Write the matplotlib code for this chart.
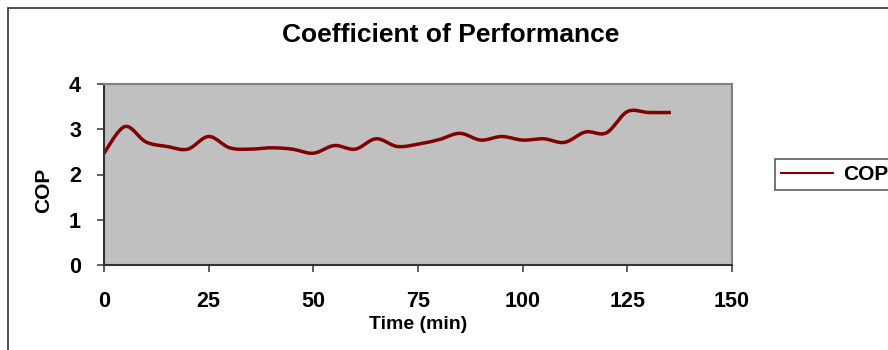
import numpy as np
import matplotlib.pyplot as plt
from matplotlib.patches import Rectangle

# COP readings every 5 minutes
time_min = [0, 5, 10, 15, 20, 25, 30, 35, 40, 45, 50, 55, 60, 65,
            70, 75, 80, 85, 90, 95, 100, 105, 110, 115, 120, 125, 130, 135]
cop = [2.47, 3.06, 2.72, 2.62, 2.56, 2.84, 2.59, 2.56, 2.59, 2.56, 2.47, 2.64, 2.56, 2.79,
       2.62, 2.67, 2.77, 2.91, 2.76, 2.84, 2.76, 2.79, 2.71, 2.94, 2.92, 3.39, 3.37, 3.37]
x_ticks = [0, 25, 50, 75, 100, 125, 150]
y_ticks = [0, 1, 2, 3, 4]


def smooth_curve(x, y, steps=20):
    """Catmull-Rom style smoothing, like a spreadsheet 'smoothed line'."""
    x = np.asarray(x, float)
    y = np.asarray(y, float)
    px = np.concatenate([[x[0]], x, [x[-1]]])
    py = np.concatenate([[y[0]], y, [y[-1]]])
    xs, ys = [], []
    t = np.linspace(0, 1, steps, endpoint=False)
    for i in range(1, len(px) - 2):
        p0, p1, p2, p3 = (np.array([px[j], py[j]]) for j in range(i - 1, i + 3))
        c1 = p1 + (p2 - p0) / 6
        c2 = p2 - (p3 - p1) / 6
        pts = ((1 - t)[:, None] ** 3 * p1 + 3 * ((1 - t) ** 2 * t)[:, None] * c1
               + 3 * ((1 - t) * t ** 2)[:, None] * c2 + (t ** 3)[:, None] * p2)
        xs.extend(pts[:, 0])
        ys.extend(pts[:, 1])
    xs.append(x[-1])
    ys.append(y[-1])
    return np.array(xs), np.array(ys)


plt.rcParams['font.family'] = ['Liberation Sans', 'DejaVu Sans']
plt.rcParams['font.weight'] = 'bold'

W, H = 888, 350
fig = plt.figure(figsize=(W / 100, H / 100), dpi=100)
fig.patch.set_facecolor('white')

# chart frame (runs off the right and bottom edges)
fig.patches.append(Rectangle((8 / W, -0.1), 1.2, 1 - 8 / H + 0.1,
                             transform=fig.transFigure, fill=False,
                             edgecolor='#333333', linewidth=1.2))

ax = fig.add_axes([104 / W, 1 - 265 / H, (732 - 104) / W, (265 - 84) / H])
ax.set_facecolor('#c0c0c0')

sx, sy = smooth_curve(time_min, cop)
line, = ax.plot(sx, sy, color='#800000', linewidth=2.5, label='COP')

ax.set_xlim(0, 150)
ax.set_ylim(0, 4)
ax.set_xticks(x_ticks)
ax.set_yticks(y_ticks)
ax.tick_params(direction='out', length=5, width=1.2, color='#444444',
               labelsize=15.5)
ax.tick_params(axis='x', pad=13.5)
ax.tick_params(axis='y', pad=11.5)
for lab in ax.get_xticklabels() + ax.get_yticklabels():
    lab.set_fontweight('bold')

for side in ['left', 'bottom']:
    ax.spines[side].set_color('#333333')
    ax.spines[side].set_linewidth(1.5)
for side in ['top', 'right']:
    ax.spines[side].set_color('#808080')
    ax.spines[side].set_linewidth(1.5)

ax.set_xlabel('Time (min)', fontsize=14, fontweight='bold')
ax.xaxis.set_label_coords(0.5, (265 - 316) / (265 - 84))
ax.set_ylabel('COP', fontsize=15, fontweight='bold')
ax.yaxis.set_label_coords((53 - 104) / (732 - 104), (265 - 190) / (265 - 84))
fig.text(451 / W, 1 - 35 / H, 'Coefficient of Performance', fontsize=19,
         fontweight='bold', ha='center', va='center')

leg = fig.legend(handles=[line], loc='center left',
                 bbox_to_anchor=(775 / W, 1 - 174.5 / H),
                 fontsize=15, frameon=True, fancybox=False,
                 handlelength=2.5, borderpad=0.3, handletextpad=0.45,
                 borderaxespad=0)
leg.get_frame().set_edgecolor('#333333')
leg.get_frame().set_linewidth(1.2)
leg.get_lines()[0].set_linewidth(1.5)
for txt in leg.get_texts():
    txt.set_fontweight('bold')

fig.savefig('out.png', dpi=100)
